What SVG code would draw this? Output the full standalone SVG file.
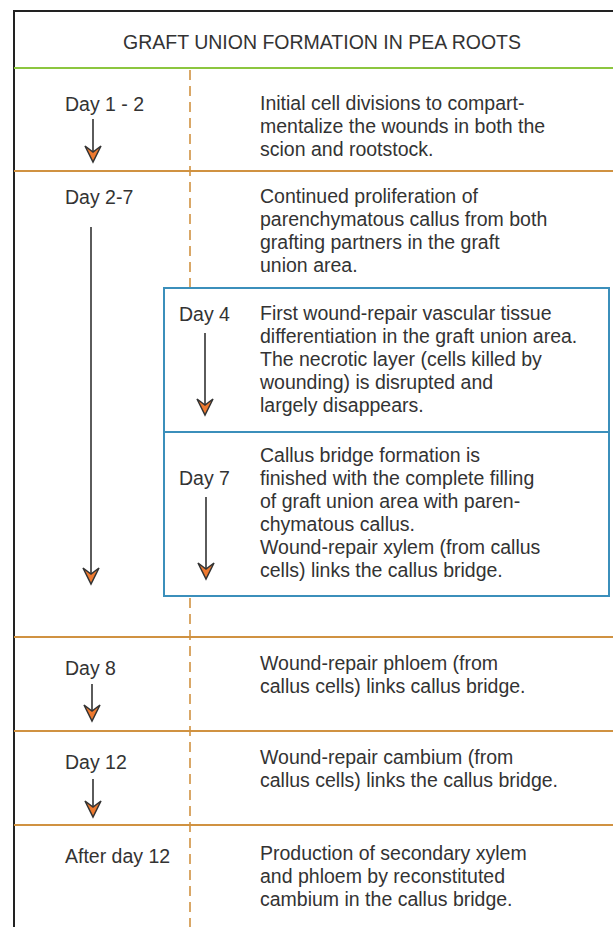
<svg xmlns="http://www.w3.org/2000/svg" width="613" height="927" viewBox="0 0 613 927">
<style>
text{font-family:"Liberation Sans",Arial,sans-serif;font-size:19.5px;fill:#333}
.sep{stroke:#d09241;stroke-width:2;fill:none}
.arr{stroke:#333;stroke-width:1.6;fill:none}
.head{fill:#ee7a30;stroke:#333;stroke-width:1.5;stroke-linejoin:miter}
</style>
<defs>
<path id="ah" d="M-8,-16 L0,0 L8,-16 L0,-10 Z"/>
</defs>
<rect width="613" height="927" fill="#fff"/>
<g id="frame">
<path d="M614,11 H14 V928" stroke="#222" stroke-width="2" fill="none"/>
<line x1="14" y1="68" x2="613" y2="68" stroke="#8cc63f" stroke-width="2"/>
<line class="sep" x1="14" y1="171" x2="613" y2="171"/>
<line class="sep" x1="14" y1="637" x2="613" y2="637"/>
<line class="sep" x1="14" y1="731" x2="613" y2="731"/>
<line class="sep" x1="14" y1="825" x2="613" y2="825"/>
<line x1="190" y1="70" x2="190" y2="927" stroke="#d09241" stroke-width="1.6" stroke-dasharray="10,6"/>
</g>
<g id="title"><text x="322" y="49" text-anchor="middle">GRAFT UNION FORMATION IN PEA ROOTS</text></g>
<g id="box">
<rect x="164" y="288" width="445" height="308" fill="#fff" stroke="#3b8fbb" stroke-width="2"/>
<line x1="164" y1="432" x2="609" y2="432" stroke="#3b8fbb" stroke-width="2"/>
</g>
<g id="connectors">
<line class="arr" x1="93" y1="119" x2="93" y2="154"/><use href="#ah" class="head" x="93" y="162"/>
<line class="arr" x1="91" y1="227" x2="91" y2="576"/><use href="#ah" class="head" x="91" y="584"/>
<line class="arr" x1="205" y1="333" x2="205" y2="407"/><use href="#ah" class="head" x="205" y="415"/>
<line class="arr" x1="206" y1="497" x2="206" y2="571"/><use href="#ah" class="head" x="206" y="579"/>
<line class="arr" x1="92" y1="684" x2="92" y2="713"/><use href="#ah" class="head" x="92" y="721"/>
<line class="arr" x1="93" y1="779" x2="93" y2="809"/><use href="#ah" class="head" x="93" y="817"/>
</g>
<g id="day1">
<text x="65" y="111">Day 1 - 2</text>
<text x="260" y="110">Initial cell divisions to compart-</text>
<text x="260" y="133">mentalize the wounds in both the</text>
<text x="260" y="156">scion and rootstock.</text>
</g>
<g id="day2">
<text x="65" y="204">Day 2-7</text>
<text x="260" y="203">Continued proliferation of</text>
<text x="260" y="226">parenchymatous callus from both</text>
<text x="260" y="249">grafting partners in the graft</text>
<text x="260" y="272">union area.</text>
</g>
<g id="day4">
<text x="179" y="321">Day 4</text>
<text x="260" y="320">First wound-repair vascular tissue</text>
<text x="260" y="343">differentiation in the graft union area.</text>
<text x="260" y="366">The necrotic layer (cells killed by</text>
<text x="260" y="389">wounding) is disrupted and</text>
<text x="260" y="412">largely disappears.</text>
</g>
<g id="day7">
<text x="179" y="485">Day 7</text>
<text x="260" y="462">Callus bridge formation is</text>
<text x="260" y="485">finished with the complete filling</text>
<text x="260" y="508">of graft union area with paren-</text>
<text x="260" y="531">chymatous callus.</text>
<text x="260" y="554">Wound-repair xylem (from callus</text>
<text x="260" y="577">cells) links the callus bridge.</text>
</g>
<g id="day8">
<text x="65" y="675">Day 8</text>
<text x="260" y="670">Wound-repair phloem (from</text>
<text x="260" y="693">callus cells) links callus bridge.</text>
</g>
<g id="day12">
<text x="65" y="769">Day 12</text>
<text x="260" y="764">Wound-repair cambium (from</text>
<text x="260" y="787">callus cells) links the callus bridge.</text>
</g>
<g id="after12">
<text x="65" y="863">After day 12</text>
<text x="260" y="860">Production of secondary xylem</text>
<text x="260" y="883">and phloem by reconstituted</text>
<text x="260" y="906">cambium in the callus bridge.</text>
</g>
</svg>
